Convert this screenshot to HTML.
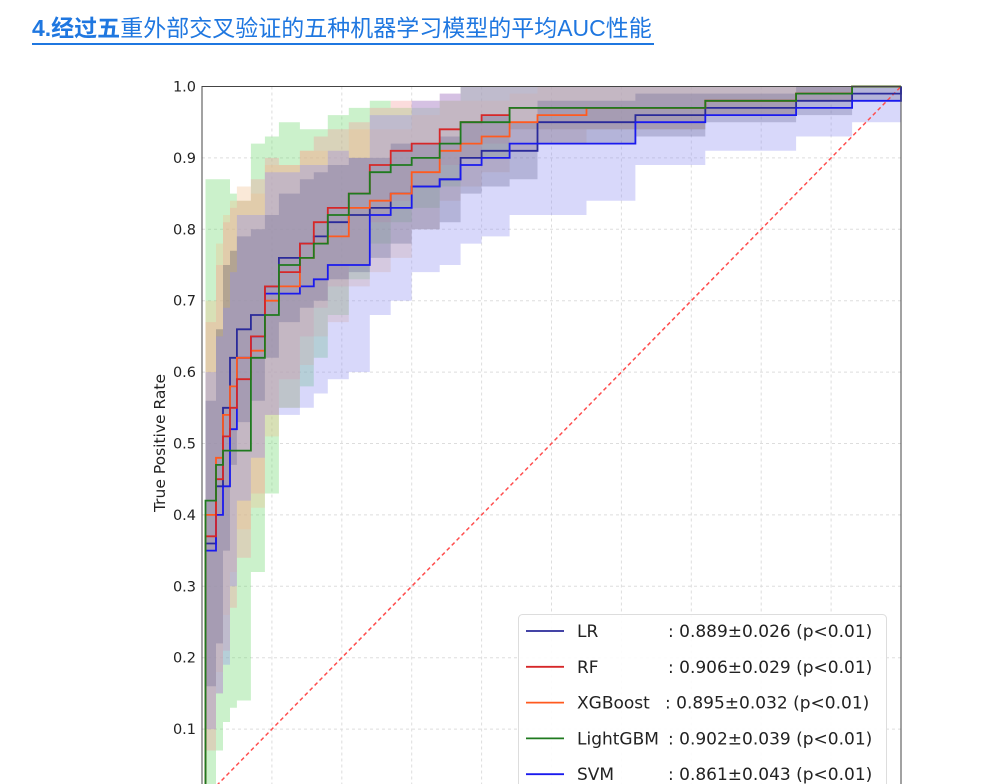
<!DOCTYPE html>
<html><head><meta charset="utf-8">
<style>
body{margin:0;width:989px;height:784px;overflow:hidden;background:#fff;font-family:"Liberation Sans","Noto Sans CJK SC",sans-serif;}
#title{position:absolute;left:32px;top:13px;font-size:23px;color:#1f77e0;white-space:nowrap;line-height:30px;border-bottom:2.5px solid #1f77e0;padding-right:2px;}
#title b{font-weight:bold;}
svg{position:absolute;left:0;top:0;}
</style></head><body>
<div id="title"><b>4.经过五</b>重外部交叉验证的五种机器学习模型的平均AUC性能</div>
<svg id="chart" width="989" height="784"></svg>
<script>
const fpr=[0,0.005,0.02,0.03,0.04,0.05,0.07,0.09,0.11,0.14,0.16,0.18,0.21,0.24,0.27,0.3,0.34,0.37,0.4,0.44,0.48,0.55,0.62,0.72,0.85,0.93,1];
const tprLR=[0,0.36,0.44,0.55,0.62,0.66,0.68,0.72,0.76,0.78,0.79,0.81,0.82,0.83,0.85,0.86,0.87,0.90,0.91,0.91,0.95,0.95,0.96,0.97,0.98,0.99,1];
const tprRF=[0,0.37,0.45,0.51,0.55,0.59,0.65,0.72,0.74,0.78,0.81,0.83,0.85,0.89,0.91,0.92,0.94,0.95,0.96,0.97,0.97,0.97,0.97,0.98,0.99,1,1];
const tprXGB=[0,0.40,0.48,0.54,0.58,0.62,0.63,0.70,0.72,0.76,0.78,0.79,0.83,0.84,0.85,0.88,0.91,0.92,0.93,0.95,0.96,0.97,0.97,0.98,0.99,1,1];
const tprLGBM=[0,0.42,0.47,0.49,0.49,0.49,0.62,0.68,0.75,0.76,0.78,0.82,0.85,0.88,0.89,0.90,0.92,0.95,0.95,0.97,0.97,0.97,0.97,0.98,0.99,1,1];
const tprSVM=[0,0.35,0.40,0.44,0.52,0.62,0.65,0.71,0.71,0.72,0.73,0.75,0.75,0.82,0.83,0.86,0.87,0.89,0.90,0.92,0.92,0.92,0.95,0.96,0.97,0.98,1];
const stdLR=[0,0.2,0.22,0.2,0.15,0.13,0.12,0.1,0.09,0.09,0.09,0.08,0.08,0.07,0.07,0.06,0.06,0.05,0.05,0.04,0.03,0.03,0.03,0.02,0.02,0.01,0];
const stdRF=[0,0.3,0.3,0.3,0.28,0.25,0.22,0.18,0.15,0.13,0.12,0.11,0.1,0.08,0.07,0.06,0.05,0.05,0.04,0.03,0.03,0.03,0.03,0.02,0.01,0,0];
const stdXGB=[0,0.3,0.3,0.28,0.26,0.24,0.22,0.19,0.17,0.15,0.13,0.12,0.11,0.1,0.09,0.08,0.07,0.06,0.05,0.04,0.04,0.03,0.03,0.02,0.01,0,0];
const stdLGBM=[0,0.45,0.4,0.38,0.36,0.35,0.3,0.25,0.2,0.18,0.16,0.14,0.12,0.1,0.08,0.07,0.06,0.05,0.05,0.03,0.03,0.03,0.03,0.02,0.01,0,0];
const stdSVM=[0,0.25,0.25,0.25,0.22,0.2,0.17,0.17,0.17,0.17,0.16,0.16,0.15,0.14,0.13,0.12,0.12,0.11,0.11,0.1,0.1,0.08,0.06,0.05,0.04,0.03,0];
const modelNames=["LR","RF","XGBoost","LightGBM","SVM"];
const aucLabels=[": 0.889±0.026 (p<0.01)",": 0.906±0.029 (p<0.01)",": 0.895±0.032 (p<0.01)",": 0.902±0.039 (p<0.01)",": 0.861±0.043 (p<0.01)"];
const yTicks=[0,0.1,0.2,0.3,0.4,0.5,0.6,0.7,0.8,0.9,1.0];
const xGrid=[0.1,0.2,0.3,0.4,0.5,0.6,0.7,0.8,0.9];

const NS="http://www.w3.org/2000/svg";
const svg=document.getElementById('chart');
const X0=202,X1=901,Y0=800.5,Y1=86.5;
const sx=v=>X0+v*(X1-X0);
const sy=v=>Y0-v*(Y0-Y1);
function mk(tag,attrs,parent){const e=document.createElementNS(NS,tag);for(const k in attrs)e.setAttribute(k,attrs[k]);(parent||svg).appendChild(e);return e;}

xGrid.forEach(v=>{
  const l=mk('line',{x1:sx(v),x2:sx(v),y1:Y1,y2:Y0,stroke:'#ddd','stroke-dasharray':'3,3','stroke-width':1});
  
  
});
yTicks.forEach(v=>{
  const l=mk('line',{x1:X0,x2:X1,y1:sy(v),y2:sy(v),stroke:'#ddd','stroke-dasharray':'3,3','stroke-width':1});
  
  
  const t=mk('text',{x:X0-6,y:sy(v)+5,'text-anchor':'end','font-size':14.5,fill:'#222','font-family':'DejaVu Sans, Liberation Sans, sans-serif'});
  t.textContent=v.toFixed(1);
  
  
});

const models=[
 {t:tprLR,s:stdLR,c:'#2a2a9a',f:'#4a4a5a'},
 {t:tprRF,s:stdRF,c:'#d62728',f:'#f49a9a'},
 {t:tprXGB,s:stdXGB,c:'#ff5a1f',f:'#f0c090'},
 {t:tprLGBM,s:stdLGBM,c:'#1f7a1f',f:'#6ad86a'},
 {t:tprSVM,s:stdSVM,c:'#1a1aee',f:'#9090f2'}
];
function stepPts(arr){let p=[];for(let i=0;i<fpr.length;i++){if(i>0)p.push([sx(fpr[i]),sy(arr[i-1])]);p.push([sx(fpr[i]),sy(arr[i])]);}return p;}
const bandOrder=[3,1,2,0,4];
bandOrder.forEach(mi=>{
  const m=models[mi];
  const up=m.t.map((v,i)=>Math.min(1,v+m.s[i]));
  const lo=m.t.map((v,i)=>Math.max(0,v-m.s[i]));
  const pu=stepPts(up),pl=stepPts(lo).reverse();
  const d='M'+pu.concat(pl).map(p=>p[0].toFixed(1)+','+p[1].toFixed(1)).join('L')+'Z';
  const e=mk('path',{d:d,fill:m.f,'fill-opacity':mi===0?0.3:0.35,stroke:'none'});
  
  
});
const dg=mk('line',{x1:sx(0),y1:sy(0),x2:sx(1),y2:sy(1),stroke:'#ff4d4d','stroke-width':1.5,'stroke-dasharray':'4,3'});


[0,4,2,1,3].forEach(mi=>{
  const m=models[mi];
  const d='M'+stepPts(m.t).map(p=>p[0].toFixed(1)+','+p[1].toFixed(1)).join('L');
  const e=mk('path',{d:d,fill:'none',stroke:m.c,'stroke-width':1.8});
  
  
});
const fr=mk('rect',{x:X0,y:Y1,width:X1-X0,height:Y0-Y1,fill:'none',stroke:'#444','stroke-width':1});


const yl=mk('text',{x:0,y:0,transform:'translate(165,443) rotate(-90)','text-anchor':'middle','font-size':15.5,fill:'#222','font-family':'DejaVu Sans, Liberation Sans, sans-serif'});
yl.textContent='True Positive Rate';


const lg=mk('rect',{x:518.5,y:614.5,width:368,height:185,rx:4,fill:'#fff','fill-opacity':0.9,stroke:'#ddd'});


modelNames.forEach((n,i)=>{
  const y=631+i*35.8;
  const l=mk('line',{x1:526,x2:564,y1:y,y2:y,stroke:models[i].c,'stroke-width':1.8});
  
  
  const t=mk('text',{x:577,y:y+6,'font-size':17,fill:'#222','font-family':'DejaVu Sans, Liberation Sans, sans-serif'});
  t.textContent=n;
  
  
  const v=mk('text',{x:i===2?665:668,y:y+6,'font-size':17,fill:'#222','font-family':'DejaVu Sans, Liberation Sans, sans-serif'});
  v.textContent=aucLabels[i];
  
  
});
</script>
</body></html>
